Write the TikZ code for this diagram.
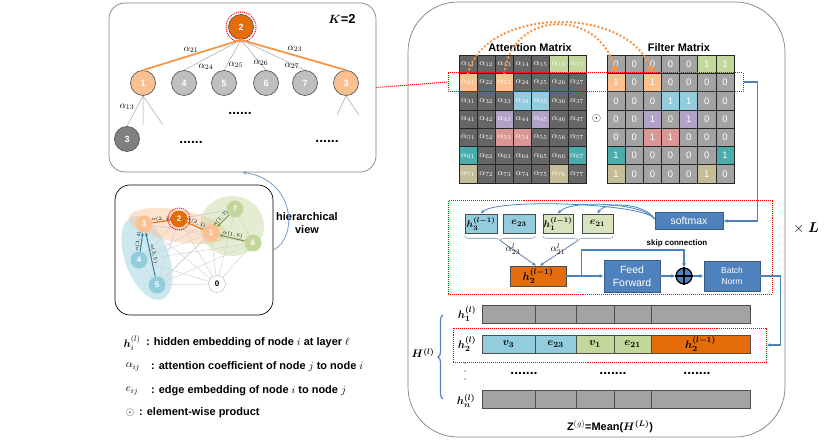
\documentclass[tikz,border=0pt]{standalone}
\usepackage{fontspec}
\setmainfont{Liberation Sans}
\usepackage{amsmath}
\usetikzlibrary{arrows.meta,decorations.pathreplacing,calc,backgrounds}

\definecolor{dorange}{HTML}{E46C0A}
\definecolor{lorange}{HTML}{FAC090}
\definecolor{aorange}{HTML}{F79646}
\definecolor{ngray}{HTML}{BFBFBF}
\definecolor{cgray}{HTML}{666666}
\definecolor{fgray}{HTML}{A3A3A3}
\definecolor{mgreen}{HTML}{C3D69B}
\definecolor{mblue}{HTML}{93CDDD}
\definecolor{mpurple}{HTML}{B3A2C7}
\definecolor{mred}{HTML}{D99694}
\definecolor{mteal}{HTML}{4BACAC}
\definecolor{mkhaki}{HTML}{C4BD97}
\definecolor{bblue}{HTML}{4F81BD}
\definecolor{bborder}{HTML}{385D8A}
\definecolor{pgreen}{HTML}{D7E4BD}
\definecolor{ablue}{HTML}{31859C}
\definecolor{agreen}{HTML}{77933C}

\newcommand{\fsz}[1]{\fontsize{#1}{#1}\selectfont}

\tikzset{
	panel/.style={draw=gray, line width=0.7pt, inner sep=0pt},
	tnode/.style={circle, draw=black!65, line width=0.7pt, minimum size=25bp, inner sep=0pt, text=white, font=\fsz{9}\bfseries},
	gnode/.style={circle, minimum size=17bp, inner sep=0pt, text=white, font=\fsz{8}\bfseries},
	oedge/.style={draw=aorange, line width=1.8pt},
	gedge/.style={draw=gray!70, line width=0.5pt},
	alab/.style={font=\fsz{10}, inner sep=0pt},
	rdot/.style={draw=red, line width=1pt, densely dotted},
	acell/.style={draw=black!85, fill=cgray, line width=0.6pt, minimum width=18.15bp, minimum height=18.3bp, inner sep=0pt, text=white, font=\fsz{9}},
	fcell/.style={acell, fill=fgray, font=\fsz{9.5}},
	mtitle/.style={font=\fsz{11}\bfseries, inner sep=0pt},
	bbox/.style={draw=bborder, fill=bblue, line width=0.8pt, inner sep=0pt, text=white, align=center},
	ebox/.style={draw=black!70, line width=0.8pt, inner sep=0pt, minimum height=19bp, font=\fsz{10}\boldmath},
	bline/.style={draw=bblue, line width=1.2pt},
	barrow/.style={bline, -{Latex[length=4pt,width=4pt]}},
	sarrow/.style={draw=bblue, line width=0.8pt, -{Stealth[length=4pt,width=3.5pt]}},
	brc/.style={draw=bblue!50!gray!60, line width=0.8pt, decorate, decoration={brace, mirror, amplitude=4bp}},
	hcell/.style={draw=black!70, fill=fgray, line width=0.8pt, minimum height=18bp, inner sep=0pt, font=\fsz{11}\boldmath},
	hlab/.style={font=\fsz{11}\boldmath, inner sep=0pt},
	dotrow/.style={font=\fsz{14}\bfseries, inner sep=0pt},
	legsym/.style={font=\fsz{11}, inner sep=0pt},
	legtxt/.style={anchor=west, font=\fsz{11}\bfseries, inner sep=0pt},
	glab/.style={font=\fsz{5}, inner sep=0.5pt, text=black},
	garrow/.style={line width=1pt, -{Stealth[length=3.5pt,width=3pt]}},
	odots/.style={draw=aorange, line width=2.8pt, line cap=round, dash pattern=on 0pt off 4pt, -{Triangle[length=7pt,width=7pt]}}
}

\begin{document}
\begin{tikzpicture}[x=1bp, y=-1bp]
	\useasboundingbox (0,0) rectangle (830,443);
	% panels
	\node[panel, minimum width=267bp, minimum height=169bp, rounded corners=16bp] (Tree) at (242.5,87.5) {};
	\node[panel, draw=black, minimum width=158bp, minimum height=130bp, rounded corners=15bp] (Graph) at (194,250) {};
	\node[panel, minimum width=377bp, minimum height=435bp, rounded corners=50bp] (Layer) at (596.5,219.5) {};

	% tree view
	\node[tnode, fill=dorange] (T2) at (241,27) {2};
	\draw[rdot] (T2) circle[radius=15];
	\node[tnode, fill=lorange] (T1) at (143,83) {1};
	\node[tnode, fill=ngray] (T4) at (184,83) {4};
	\node[tnode, fill=ngray] (T5) at (224,83) {5};
	\node[tnode, fill=ngray] (T6) at (266,83) {6};
	\node[tnode, fill=ngray] (T7) at (305,83) {7};
	\node[tnode, fill=lorange] (T3) at (346,83) {3};
	\node[tnode, fill=gray] (T33) at (127,139) {3};
	\foreach \n in {4,5,6,7}
		\draw[gedge] (T2.south) -- (T\n.north);
	\draw[oedge] (T2.south) -- (T1.north);
	\draw[oedge] (T2.south) -- (T3.north);
	\coordinate (c1) at (143,125);
	\coordinate (c2) at (163,125);
	\coordinate (c3) at (337,115);
	\coordinate (c4) at (359,115);
	\draw[gedge] (T1.south) -- (T33.north) (T1.south) -- (c1) (T1.south) -- (c2) (T3.south) -- (c3) (T3.south) -- (c4);
	\node[alab] (a21) at (191,50) {$\alpha_{21}$};
	\node[alab] (a23) at (295,49) {$\alpha_{23}$};
	\node[alab] (a24) at (206,67) {$\alpha_{24}$};
	\node[alab] (a25) at (236,65) {$\alpha_{25}$};
	\node[alab] (a26) at (261,63) {$\alpha_{26}$};
	\node[alab] (a27) at (292,66) {$\alpha_{27}$};
	\node[alab] (a13) at (127,107) {$\alpha_{13}$};
	\node[dotrow] (d1) at (240,113) {......};
	\node[dotrow] (d2) at (191,142) {......};
	\node[dotrow] (d3) at (327,141) {......};
	\node[font=\fsz{13}] (K) at (342,19) {{\boldmath$K$}\textbf{=2}};

	% graph view
	\node[gnode, fill=dorange] (G2) at (179,219) {2};
	\node[gnode, fill=lorange] (G3) at (144,224) {3};
	\node[gnode, fill=lorange] (G1) at (211,233) {1};
	\node[gnode, fill=mgreen] (G7) at (235,209) {7};
	\node[gnode, fill=mgreen] (G6) at (253,243) {6};
	\node[gnode, fill=mblue] (G4) at (139,260) {4};
	\node[gnode, fill=mblue] (G5) at (157,285) {5};
	\node[gnode, fill=white, draw=gray!60, text=black] (G0) at (217,284) {0};
	\begin{scope}[on background layer]
		\fill[mblue, opacity=0.45, rotate around={-70:(147,258)}] (147,258) ellipse [x radius=44, y radius=22];
		\fill[lorange, opacity=0.45, rotate around={-10:(178,226)}] (178,226) ellipse [x radius=50, y radius=16];
		\fill[mgreen, opacity=0.45] (232,226) ellipse [x radius=32, y radius=30];
		\foreach \a in {0,...,7}
			\foreach \b in {0,...,7} {\ifnum\a<\b \draw[gedge, draw=gray!35] (G\a) -- (G\b);\fi}
	\end{scope}
	\draw[rdot] (G2) circle[radius=11];
	\draw[garrow, draw=ablue] (G4) -- node[glab, sloped, above] {$\alpha(3,4)$} (G3);
	\draw[garrow, draw=ablue] (G5) -- node[glab, sloped, above] {$\alpha(3,5)$} (G3);
	\draw[garrow, draw=dorange] (G3) -- node[glab, above=-1bp] {$\alpha(2,3)$} (G2);
	\draw[garrow, draw=dorange] (G1) -- node[glab, sloped, above] {$\alpha(2,1)$} (G2);
	\draw[garrow, draw=agreen] (G7) -- node[glab, sloped, above] {$\alpha(1,7)$} (G1);
	\draw[garrow, draw=agreen] (G6) -- node[glab, sloped, above] {$\alpha(1,6)$} (G1);
	\node[font=\fontsize{11}{13}\selectfont\bfseries, align=center] (HV) at (307,223) {hierarchical\\view};
	\draw[draw=bblue!80, line width=0.8pt, -{Stealth[length=4pt,width=3.5pt]}] (Graph.east) .. controls (298,238) and (296,180) .. (Tree.south);

	% legend
	\node[legsym] (LS1) at (132,343) {$\boldsymbol{h}_i^{(l)}$};
	\node[legtxt] (LT1) at (146,343) {: hidden embedding of node $i$ at layer $\ell$};
	\node[legsym] (LS2) at (133,367) {$\alpha_{ij}$};
	\node[legtxt] (LT2) at (151,367) {: attention coefficient of node $j$ to node $i$};
	\node[legsym] (LS3) at (132,391) {$e_{ij}$};
	\node[legtxt] (LT3) at (151,391) {: edge embedding of node $i$ to node $j$};
	\node[legsym] (LS4) at (130,413) {$\odot$};
	\node[legtxt] (LT4) at (139,413) {: element-wise product};

	% attention and filter matrices
	\node[mtitle] (AT) at (530,48) {Attention Matrix};
	\node[mtitle] (FT) at (679,48) {Filter Matrix};
	\foreach \r in {1,...,7}
		\foreach \c in {1,...,7} {
			\node[acell] (A\r\c) at ({449.925+18.15*\c}, {45.85+18.3*\r}) {$\alpha_{\r\c}$};
			\node[fcell] (F\r\c) at ({597.925+18.15*\c}, {45.85+18.3*\r}) {0};
		}
	\foreach \r/\c/\col in {1/6/mgreen,1/7/mgreen,2/1/lorange,2/3/lorange,3/4/mblue,3/5/mblue,4/3/mpurple,4/5/mpurple,5/3/mred,5/4/mred,6/1/mteal,6/7/mteal,7/1/mkhaki,7/6/mkhaki} {
		\node[acell, fill=\col] at (A\r\c) {$\alpha_{\r\c}$};
		\node[fcell, fill=\col] at (F\r\c) {1};
	}
	\node[font=\fsz{13}] (Od) at (596.5,119) {$\odot$};
	\draw[odots] (A21.north) .. controls (485,8) and (625,4) .. (F23.north);
	\draw[odots] (A23.north) .. controls (512,10) and (598,8) .. (F21.north);
	\node[rdot, minimum width=295bp, minimum height=19bp] (R2box) at (595.5,82) {};
	\draw[rdot] (Tree.east) -- (R2box.west);

	% one layer
	\node[rdot, minimum width=324bp, minimum height=93bp] (Rmid) at (610,247.5) {};
	\node[bbox, minimum width=68bp, minimum height=17bp, font=\fsz{10.5}] (Soft) at (689,221) {softmax};
	\draw[bline, -{Latex[length=4pt,width=4pt]}] (R2box.east) -- ++(14,0) |- (Soft.east);
	\node[ebox, fill=mblue, minimum width=32bp] (H3) at (481,223.5) {$h_3^{(l-1)}$};
	\node[ebox, fill=mblue, minimum width=32bp] (E23) at (519,223.5) {$e_{23}$};
	\node[ebox, fill=pgreen, minimum width=30bp] (H1) at (558,223.5) {$h_1^{(l-1)}$};
	\node[ebox, fill=pgreen, minimum width=31bp] (E21) at (597.5,223.5) {$e_{21}$};
	\draw[sarrow] ([yshift=2bp]Soft.west) .. controls (645,203) and (495,198) .. (H3.north);
	\draw[sarrow] ([yshift=2bp]Soft.west) .. controls (645,203) and (570,199) .. (H1.north);
	\draw[sarrow] ([yshift=2bp]Soft.west) .. controls (645,203) and (605,201) .. (E21.north);
	\draw[brc] ([yshift=-3bp]H3.south west) -- ([yshift=-3bp]E23.south east) coordinate[midway] (B1);
	\draw[brc] ([yshift=-3bp]H1.south west) -- ([yshift=-3bp]E21.south east) coordinate[midway] (B2);
	\node[ebox, fill=dorange, minimum width=56bp, minimum height=20bp, font=\fsz{11}\boldmath] (H2) at (538,276) {$h_2^{(l-1)}$};
	\draw[sarrow, draw=bblue!70!gray] ([yshift=-4bp]B1) -- ([xshift=-2bp]H2.north);
	\draw[sarrow, draw=bblue!70!gray] ([yshift=-4bp]B2) -- ([xshift=2bp]H2.north);
	\node[alab] (l23) at (513,249) {$\alpha_{23}^{l}$};
	\node[alab] (l21) at (558,249) {$\alpha_{21}^{l}$};
	\node[bbox, minimum width=56bp, minimum height=32bp, font=\fontsize{10.5}{13}\selectfont] (FF) at (632,276) {Feed\\Forward};
	\node[circle, draw=black, line width=1.2pt, fill=bblue, minimum size=16bp, inner sep=0pt] (Plus) at (684,276) {};
	\draw[line width=1.2pt] (Plus.north) -- (Plus.south) (Plus.west) -- (Plus.east);
	\node[bbox, minimum width=56bp, minimum height=30bp, font=\fontsize{8.5}{11}\selectfont] (BN) at (732,276) {Batch\\Norm};
	\coordinate (Sk) at ($(H2.east)!0.4!(FF.west)$);
	\draw[barrow] (H2.east) -- (FF.west);
	\draw[barrow] (Sk) -- ++(0,-26) -| (Plus.north);
	\node[font=\fsz{8}\bfseries] (SkL) at (677,243) {skip connection};
	\draw[barrow] (FF.east) -- (Plus.west);
	\draw[barrow] (Plus.east) -- (BN.west);
	\node[font=\fsz{14}] (XL) at (806,228) {$\times$ {\boldmath$L$}};

	% node embeddings
	\foreach \a/\b [count=\i] in {482/535,535/576,576/614,614/651,651/750} {
		\node[hcell, minimum width={(\b-\a)*1bp}] (Ha\i) at ({(\a+\b)/2},314) {};
		\node[hcell, minimum width={(\b-\a)*1bp}] (Hn\i) at ({(\a+\b)/2},399.5) {};
	}
	\node[hcell, fill=mblue, minimum width=53bp] (V3) at (508.5,344) {$v_3$};
	\node[hcell, fill=mblue, minimum width=41bp] (E23r) at (555.5,344) {$e_{23}$};
	\node[hcell, fill=mgreen, minimum width=38bp] (V1) at (595,344) {$v_1$};
	\node[hcell, fill=mgreen, minimum width=37bp] (E21r) at (632.5,344) {$e_{21}$};
	\node[hcell, fill=dorange, minimum width=99bp] (H2r) at (700.5,344) {$h_2^{(l-1)}$};
	\node[rdot, minimum width=313bp, minimum height=34bp] (R2row) at (609.5,345) {};
	\draw[barrow] (BN.east) -- ++(20,0) |- (R2row.east);
	\node[hlab] (Lh1) at (467,314) {$h_1^{(l)}$};
	\node[hlab] (Lh2) at (467,344) {$h_2^{(l)}$};
	\node[hlab] (Lhn) at (466,401) {$h_n^{(l)}$};
	\foreach \y in {363,371,379}
		\fill (465,\y) circle[radius=0.6];
	\node[dotrow] (d4) at (524,373) {.......};
	\node[dotrow] (d5) at (613,373) {.......};
	\node[dotrow] (d6) at (697,373) {.......};
	\draw[draw=bblue, line width=1.2pt, decorate, decoration={brace, amplitude=5bp}] (443,399) -- (443,315);
	\node[hlab] (HL) at (423,353) {$H^{(l)}$};
	\node[font=\fsz{11}\bfseries] (Zg) at (610,427) {Z$^{(g)}$=Mean({\boldmath$H^{(L)}$})};
\end{tikzpicture}
\end{document}
